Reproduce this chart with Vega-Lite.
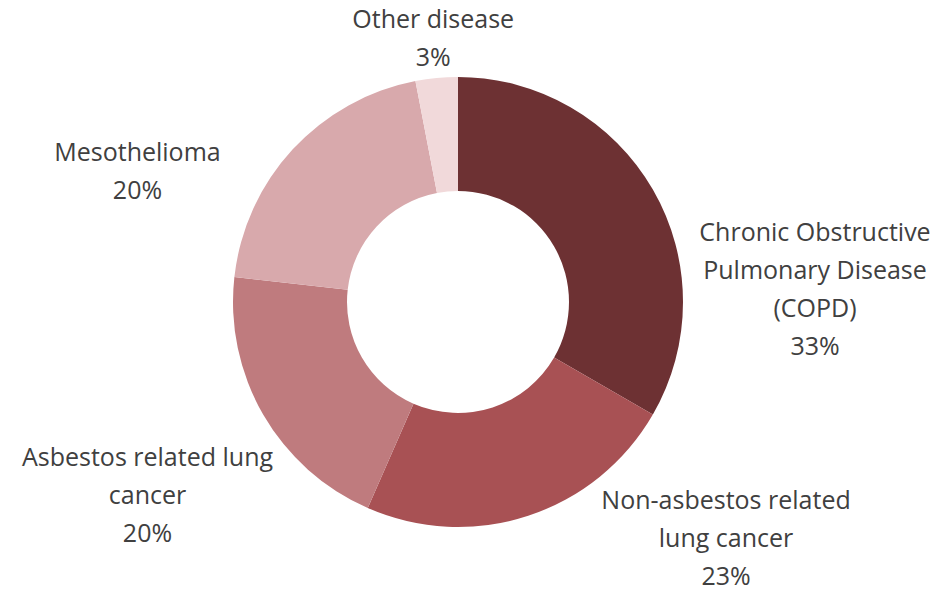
{
  "$schema": "https://vega.github.io/schema/vega-lite/v6.json",
  "width": 916,
  "height": 586,
  "autosize": "none",
  "padding": {"left": 0, "top": 9, "right": 28, "bottom": 0},
  "background": "white",
  "config": {
    "view": {"stroke": null},
    "text": {
      "font": "Open Sans",
      "fontSize": 25,
      "color": "#404040",
      "lineHeight": 38,
      "lineBreak": "\n",
      "align": "center",
      "baseline": "middle"
    }
  },
  "data": {
    "values": [
      {"cause": "COPD", "share": 33, "label": "Chronic Obstructive\nPulmonary Disease\n(COPD)\n33%"},
      {"cause": "Non-asbestos related lung cancer", "share": 23, "label": "Non-asbestos related\nlung cancer\n23%"},
      {"cause": "Asbestos related lung cancer", "share": 20, "label": "Asbestos related lung\ncancer\n20%"},
      {"cause": "Mesothelioma", "share": 20, "label": "Mesothelioma\n20%"},
      {"cause": "Other disease", "share": 3, "label": "Other disease\n3%"}
    ]
  },
  "transform": [{"window": [{"op": "row_number", "as": "rank"}]}],
  "encoding": {
    "theta": {"field": "share", "type": "quantitative", "stack": true},
    "order": {"field": "rank", "type": "quantitative"},
    "detail": {"field": "cause", "type": "nominal"}
  },
  "layer": [
    {
      "mark": {"type": "arc", "radius": 225, "radius2": 111},
      "encoding": {
        "color": {
          "field": "cause",
          "type": "nominal",
          "legend": null,
          "scale": {
            "domain": ["COPD", "Non-asbestos related lung cancer", "Asbestos related lung cancer", "Mesothelioma", "Other disease"],
            "range": ["#6d3133", "#a85154", "#bf7b7e", "#d8a9ac", "#f1d9da"]
          }
        }
      }
    },
    {
      "mark": {"type": "text", "radius": 363.6, "thetaOffset": 0.333},
      "encoding": {"text": {"condition": {"test": "datum.cause === 'COPD'", "field": "label"}, "value": ""}}
    },
    {
      "mark": {"type": "text", "radius": 333.8, "thetaOffset": -0.615},
      "encoding": {"text": {"condition": {"test": "datum.cause === 'Non-asbestos related lung cancer'", "field": "label"}, "value": ""}}
    },
    {
      "mark": {"type": "text", "radius": 347.5, "thetaOffset": 0.058},
      "encoding": {"text": {"condition": {"test": "datum.cause === 'Asbestos related lung cancer'", "field": "label"}, "value": ""}}
    },
    {
      "mark": {"type": "text", "radius": 353.4, "thetaOffset": -0.311},
      "encoding": {"text": {"condition": {"test": "datum.cause === 'Mesothelioma'", "field": "label"}, "value": ""}}
    },
    {
      "mark": {"type": "text", "radius": 283.1, "thetaOffset": 0.0075},
      "encoding": {"text": {"condition": {"test": "datum.cause === 'Other disease'", "field": "label"}, "value": ""}}
    }
  ]
}
